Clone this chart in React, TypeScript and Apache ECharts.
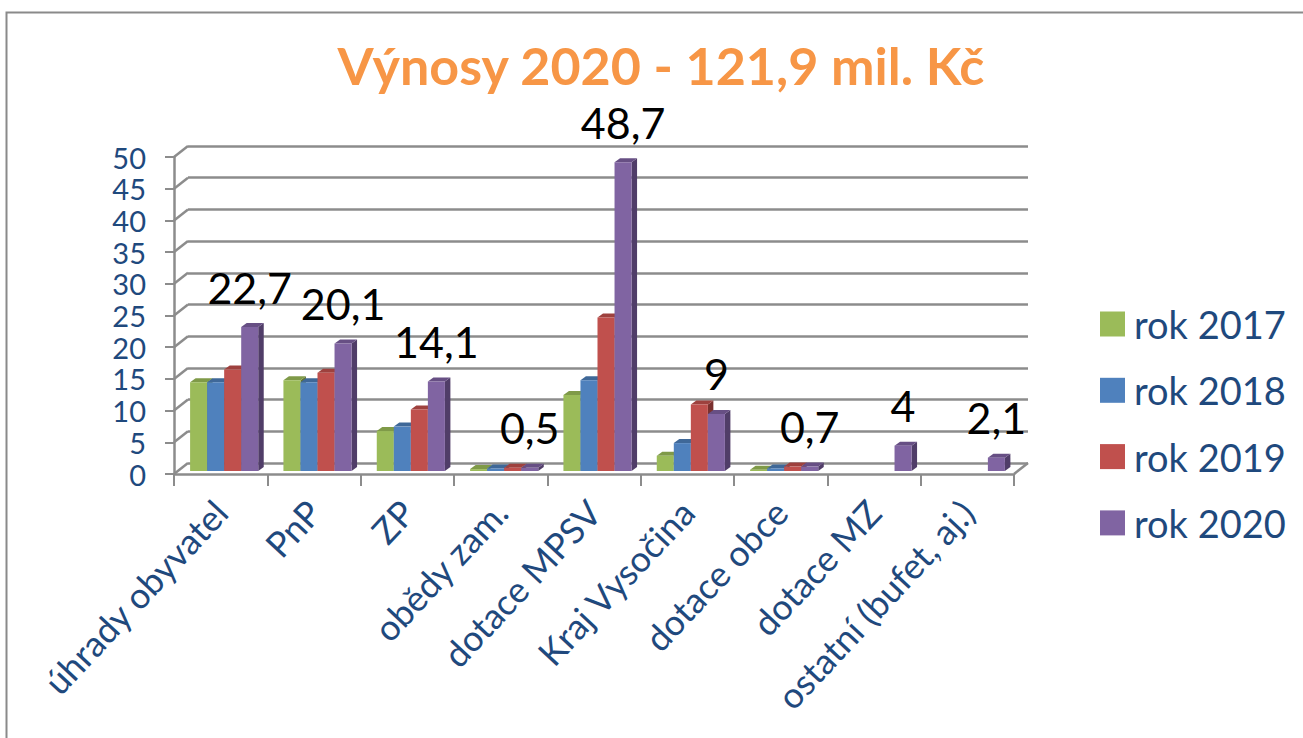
import React, { useEffect, useRef } from "react";
import * as echarts from "echarts";

const titleText = "Výnosy 2020 - 121,9 mil. Kč";
const categories = ["úhrady obyvatel", "PnP", "ZP", "obědy zam.", "dotace MPSV", "Kraj Vysočina", "dotace obce", "dotace MZ", "ostatní (bufet, aj.)"];
const rok2017 = [14, 14.3, 6.3, 0.3, 12, 2.4, 0.2, null, null];
const rok2018 = [14, 14, 7, 0.4, 14.3, 4.4, 0.4, null, null];
const rok2019 = [16, 15.5, 9.7, 0.5, 24.2, 10.5, 0.7, null, null];
const rok2020 = [22.7, 20.1, 14.1, 0.5, 48.7, 9, 0.7, 4, 2.1];
const rok2020Labels = ["22,7", "20,1", "14,1", "0,5", "48,7", "9", "0,7", "4", "2,1"];
const yTicks = [0, 5, 10, 15, 20, 25, 30, 35, 40, 45, 50];

const FONT = "Lato, Carlito, 'Open Sans', sans-serif";
const AXIS_GRAY = "#8c8c8c";
const TEXT_BLUE = "#1F497D";
const DX = 14, DY = 11;

const palette = [
  { name: "rok 2017", values: rok2017, front: "#9BBB59", top: "#7F9A48", side: "#617536" },
  { name: "rok 2018", values: rok2018, front: "#4F81BD", top: "#3F6898", side: "#30507A" },
  { name: "rok 2019", values: rok2019, front: "#C0504D", top: "#9E413E", side: "#7A302E" },
  { name: "rok 2020", values: rok2020, front: "#8064A2", top: "#674F84", side: "#503D68" },
];

function barSeries(s: (typeof palette)[number], idx: number) {
  return {
    type: "custom",
    name: s.name,
    xAxisIndex: 0,
    yAxisIndex: 0,
    z: 5,
    itemStyle: { color: s.front },
    data: s.values.map((v, i) => [i, v]),
    encode: { x: 0, y: 1 },
    renderItem: (_p: any, api: any) => {
      const v = api.value(1);
      if (v === null || v === undefined || isNaN(v)) return { type: "group", children: [] };
      const c = api.value(0);
      const band = api.size([1, 0])[0];
      const w = band * 0.1825;
      const base = api.coord([c, 0]);
      const top = api.coord([c, v]);
      const x0 = base[0] + 3.5 + (idx - 2) * w;
      const x1 = x0 + w;
      const yb = base[1] - 3;
      const yt = top[1] - 3;
      const dx = 5.5, dy = 4;
      const children: any[] = [
        { type: "polygon", shape: { points: [[x1, yt], [x1 + dx, yt - dy], [x1 + dx, yb - dy], [x1, yb]] }, style: { fill: s.side } },
        { type: "polygon", shape: { points: [[x0, yt], [x0 + dx, yt - dy], [x1 + dx, yt - dy], [x1, yt]] }, style: { fill: s.top } },
        { type: "rect", shape: { x: x0, y: yt, width: w, height: yb - yt }, style: { fill: s.front } },
      ];
      if (idx === 3) {
        children.push({
          type: "text",
          z2: 20,
          style: {
            text: rok2020Labels[c],
            x: (x0 + x1) / 2,
            y: yt - 40,
            align: "center",
            verticalAlign: "middle",
            fill: "#000",
            font: `43px ${FONT}`,
          },
        });
      }
      return { type: "group", children };
    },
  };
}

function wallSeries() {
  return {
    type: "custom",
    xAxisIndex: 0,
    yAxisIndex: 0,
    z: 2,
    silent: true,
    data: yTicks.map((t) => [0, t]),
    encode: { x: 0, y: 1 },
    renderItem: (_p: any, api: any) => {
      const band = api.size([1, 0])[0];
      const p = api.coord([0, api.value(1)]);
      const x = p[0] - band / 2;
      const lineStyle = { stroke: AXIS_GRAY, lineWidth: 2.5, fill: "none" };
      const children: any[] = [{ type: "line", shape: { x1: x, y1: p[1], x2: x + DX, y2: p[1] - DY }, style: lineStyle }];
      if (api.value(1) === 0) {
        const xr = x + band * categories.length;
        children.push({ type: "line", shape: { x1: xr, y1: p[1], x2: xr + DX, y2: p[1] - DY }, style: lineStyle });
      }
      return { type: "group", children };
    },
  };
}

export default function App() {
  const ref = useRef<HTMLDivElement>(null);
  useEffect(() => {
    const chart = echarts.init(ref.current!, undefined, { renderer: "svg" });
    chart.setOption({
      animation: false,
      backgroundColor: "#fff",
      title: {
        text: titleText,
        left: 656,
        top: 34,
        textAlign: "center",
        textStyle: { color: "#F79646", fontSize: 52, fontWeight: "bold", fontFamily: FONT },
      },
      graphic: [
        {
          type: "polyline",
          shape: { points: [[6.5, 738], [6.5, 12.5], [1303, 12.5]] },
          style: { stroke: "#8a8a8a", lineWidth: 2, fill: "none" },
        },
      ],
      legend: {
        show: true,
        orient: "vertical",
        left: 1095,
        top: 300,
        itemWidth: 25,
        itemHeight: 25,
        itemGap: 28.3,
        icon: "rect",
        selectedMode: false,
        data: palette.map((p) => p.name),
        textStyle: { color: TEXT_BLUE, fontSize: 38, fontFamily: FONT, padding: [0, 0, 0, 4] },
      },
      grid: [
        { left: 174, top: 157, width: 840, height: 317 },
        { left: 188, top: 146, width: 840, height: 317 },
      ],
      xAxis: [
        {
          type: "category",
          gridIndex: 0,
          data: categories,
          axisLine: { lineStyle: { color: AXIS_GRAY, width: 2.5 } },
          axisTick: { show: true, length: 12, lineStyle: { color: AXIS_GRAY, width: 2 } },
          axisLabel: {
            rotate: 47,
            interval: 0,
            margin: 32,
            color: TEXT_BLUE,
            fontSize: 35.5,
            fontFamily: FONT,
          },
        },
        { type: "category", gridIndex: 1, data: categories, show: false },
      ],
      yAxis: [
        {
          type: "value",
          gridIndex: 0,
          min: 0,
          max: 50,
          interval: 5,
          axisLine: { show: true, lineStyle: { color: AXIS_GRAY, width: 2.5 } },
          axisTick: { show: true, length: 9, lineStyle: { color: AXIS_GRAY, width: 2 } },
          splitLine: { show: false },
          axisLabel: { color: TEXT_BLUE, fontSize: 29, fontFamily: FONT, margin: 28 },
        },
        {
          type: "value",
          gridIndex: 1,
          min: 0,
          max: 50,
          interval: 5,
          axisLine: { show: false },
          axisTick: { show: false },
          axisLabel: { show: false },
          splitLine: { show: true, lineStyle: { color: AXIS_GRAY, width: 2.5 } },
        },
      ],
      series: [wallSeries(), ...palette.map((s, i) => barSeries(s, i))],
    });
    return () => chart.dispose();
  }, []);
  return <div ref={ref} style={{ position: "fixed", left: 0, top: 0, width: 1303, height: 738 }} />;
}
